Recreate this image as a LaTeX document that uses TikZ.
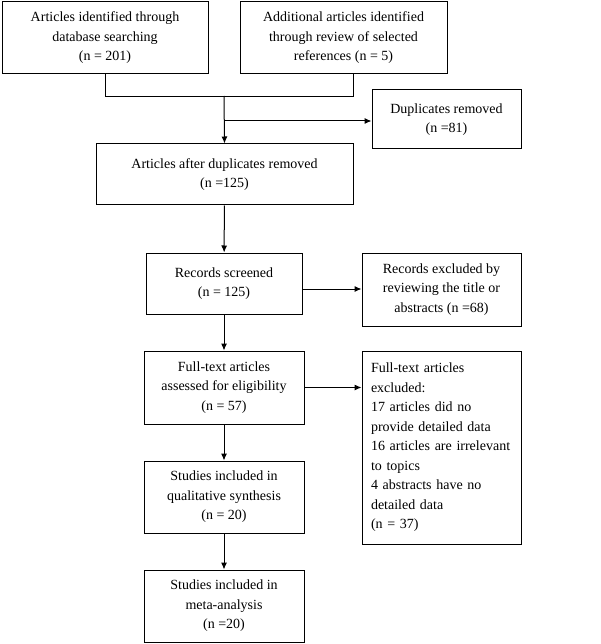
\documentclass[tikz,border=0pt]{standalone}
\usepackage{fontspec}
\setmainfont{Liberation Serif}
\usetikzlibrary{arrows.meta, positioning, calc}

\begin{document}
\begin{tikzpicture}[x=1pt, y=-1pt]
    % Define styles
    \tikzstyle{stage}=[draw, rectangle, line width=1pt, align=center, inner sep=2pt, font=\fontsize{14}{19.5}\selectfont]
    \tikzstyle{flow}=[-{Latex[length=7pt, width=6pt]}, line width=1pt]
    \tikzstyle{link}=[line width=1pt]

    \useasboundingbox (0,0) rectangle (600,644);

    % Identification - two sources
    \node[stage, minimum width=206pt, minimum height=72pt] (dbsearch) at (105,38) {Articles identified through\\database searching\\(n = 201)};
    \node[stage, minimum width=207pt, minimum height=72pt] (refsearch) at (343.5,38) {Additional articles identified\\through review of selected\\references (n = 5)};

    % Duplicates
    \node[stage, minimum width=149pt, minimum height=59pt] (dupes) at (446.5,119.5) {Duplicates removed\\(n =81)};
    \node[stage, minimum width=257pt, minimum height=61pt] (afterdup) at (224.5,174.5) {Articles after duplicates removed\\(n =125)};

    % Screening
    \node[stage, minimum width=156pt, minimum height=61pt] (screened) at (224,283.5) {Records screened\\(n = 125)};
    \node[stage, minimum width=159pt, minimum height=73pt] (screenout) at (441.5,289.5) {Records excluded by\\reviewing the title or\\abstracts (n =68)};

    % Eligibility
    \node[stage, minimum width=160pt, minimum height=73pt] (fulltext) at (224,387.5) {Full-text articles\\assessed for eligibility\\(n = 57)};
    \node[stage, minimum width=159pt, minimum height=193pt, text width=141pt, align=left] (fullout) at (441.5,447.5) {Full-text articles\\excluded:\\17 articles did no\\provide detailed data\\16 articles are irrelevant\\to topics\\4 abstracts have no\\detailed data\\(n = 37)};

    % Included
    \node[stage, minimum width=160pt, minimum height=72pt] (qualitative) at (224,497) {Studies included in\\qualitative synthesis\\(n = 20)};
    \node[stage, minimum width=160pt, minimum height=72pt] (meta) at (224,606) {Studies included in\\meta-analysis\\(n =20)};

    % Merge the two sources
    \coordinate (merge) at (224,96);
    \coordinate (split) at (224,121);
    \draw[link] (dbsearch.south) -- ++(0,22) -| ([xshift=9.5pt]refsearch.south);
    \draw[flow] (merge) -- (afterdup.north);
    \draw[flow] (split) -- (split -| dupes.west);

    % Main column arrows
    \draw[flow] (afterdup) -- (screened);
    \draw[flow] (screened) -- (fulltext);
    \draw[flow] (fulltext) -- (qualitative);
    \draw[flow] (qualitative) -- (meta);

    % Exclusions
    \draw[flow] ([yshift=-5.5pt]screened.east) -- ([yshift=-5.5pt]screened.east -| screenout.west);
    \draw[flow] (fulltext.east) -- (fulltext.east -| fullout.west);
\end{tikzpicture}
\end{document}
